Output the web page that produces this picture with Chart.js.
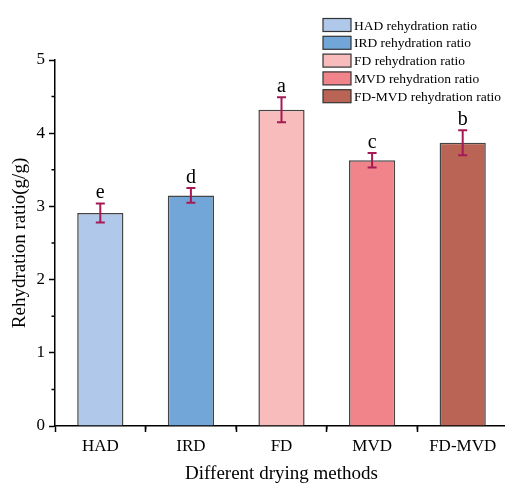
<!DOCTYPE html>
<html>
<head>
<meta charset="utf-8">
<script src="https://cdn.jsdelivr.net/npm/chart.js@4"></script>
<style>
  html, body { margin: 0; padding: 0; background: #fff; overflow: hidden; }
  #wrap { width: 508px; height: 485px; }
</style>
</head>
<body>
<div id="wrap"><canvas id="barChart"></canvas></div>
<script>
var categories = ['HAD', 'IRD', 'FD', 'MVD', 'FD-MVD'];
var ratios = [2.91, 3.15, 4.32, 3.63, 3.87];
var errors = [0.13, 0.10, 0.17, 0.10, 0.17];
var letters = ['e', 'd', 'a', 'c', 'b'];
var legendLabels = ['HAD rehydration ratio', 'IRD rehydration ratio', 'FD rehydration ratio',
                    'MVD rehydration ratio', 'FD-MVD rehydration ratio'];
var colors = ['#b0c8ea', '#72a6d8', '#f8bcbc', '#f0848a', '#b96455'];

var serif = '"Liberation Serif", "DejaVu Serif", serif';

// error bars, significance letters, minor ticks and the legend box
var extras = {
    id: 'extras',
    afterDatasetsDraw: function (chart) {
        var c = chart.ctx;
        var y = chart.scales.y;
        var meta = chart.getDatasetMeta(0);
        c.save();
        meta.data.forEach(function (bar, i) {
            var top = y.getPixelForValue(ratios[i] + errors[i]);
            var bot = y.getPixelForValue(ratios[i] - errors[i]);
            c.strokeStyle = '#a51a55';
            c.lineWidth = 2;
            c.beginPath();
            c.moveTo(bar.x, top); c.lineTo(bar.x, bot);
            c.moveTo(bar.x - 4.5, top); c.lineTo(bar.x + 4.5, top);
            c.moveTo(bar.x - 4.5, bot); c.lineTo(bar.x + 4.5, bot);
            c.stroke();
            c.fillStyle = '#000';
            c.font = '20px ' + serif;
            c.textAlign = 'center';
            c.textBaseline = 'alphabetic';
            c.fillText(letters[i], bar.x, top - 5);
        });
        c.restore();
    },
    afterDraw: function (chart) {
        var c = chart.ctx;
        var area = chart.chartArea;
        var x = chart.scales.x;
        var y = chart.scales.y;
        c.save();
        c.strokeStyle = '#000';
        c.lineWidth = 1.5;
        c.beginPath();
        for (var v = 0.5; v < 5; v += 1) {
            var py = y.getPixelForValue(v);
            c.moveTo(area.left, py); c.lineTo(area.left - 3.5, py);
        }
        for (var i = 0; i < categories.length - 1; i++) {
            var px = (x.getPixelForValue(i) + x.getPixelForValue(i + 1)) / 2;
            c.moveTo(px, area.bottom); c.lineTo(px, area.bottom + 3.5);
        }
        c.stroke();

        // legend
        c.font = '13.5px ' + serif;
        c.textAlign = 'left';
        c.textBaseline = 'middle';
        legendLabels.forEach(function (lab, i) {
            var cy = 25 + i * 17.8;
            c.fillStyle = colors[i];
            c.fillRect(323, cy - 6.5, 28, 13);
            c.strokeStyle = '#333';
            c.lineWidth = 1.2;
            c.strokeRect(323, cy - 6.5, 28, 13);
            c.fillStyle = '#000';
            c.fillText(lab, 354, cy + 1);
        });
        c.restore();
    }
};

var ctx = document.getElementById('barChart').getContext('2d');
var myChart = new Chart(ctx, {
    type: 'bar',
    data: {
        labels: categories,
        datasets: [{
            label: 'Rehydration ratio',
            data: ratios,
            backgroundColor: colors,
            borderColor: '#444',
            borderWidth: 1.5,
            barPercentage: 0.51,
            categoryPercentage: 1
        }]
    },
    options: {
        responsive: true,
        maintainAspectRatio: false,
        animation: false,
        layout: { padding: { top: 60, right: 0, left: 0, bottom: 0 } },
        plugins: {
            legend: { display: false },
            tooltip: { enabled: false }
        },
        scales: {
            x: {
                afterFit: function (s) { s.height = 59; },
                grid: { drawOnChartArea: false, drawTicks: true, tickLength: 6, tickColor: '#000', tickWidth: 1.5 },
                border: { color: '#000', width: 1.5 },
                ticks: { color: '#000', font: { family: serif, size: 17 }, padding: 4, maxRotation: 0 },
                title: { display: true, text: 'Different drying methods', color: '#000',
                         font: { family: serif, size: 19 }, padding: { top: 0, bottom: 0 } }
            },
            y: {
                min: 0,
                max: 5,
                afterFit: function (s) { s.width = 55; },
                grid: { drawOnChartArea: false, drawTicks: true, tickLength: 6, tickColor: '#000', tickWidth: 1.5 },
                border: { color: '#000', width: 1.5 },
                ticks: { stepSize: 1, color: '#000', font: { family: serif, size: 17 }, padding: 4 },
                title: { display: true, text: 'Rehydration ratio(g/g)', color: '#000',
                         font: { family: serif, size: 19 }, padding: { top: 9, bottom: 0 } }
            }
        }
    },
    plugins: [extras]
});
</script>
</body>
</html>
